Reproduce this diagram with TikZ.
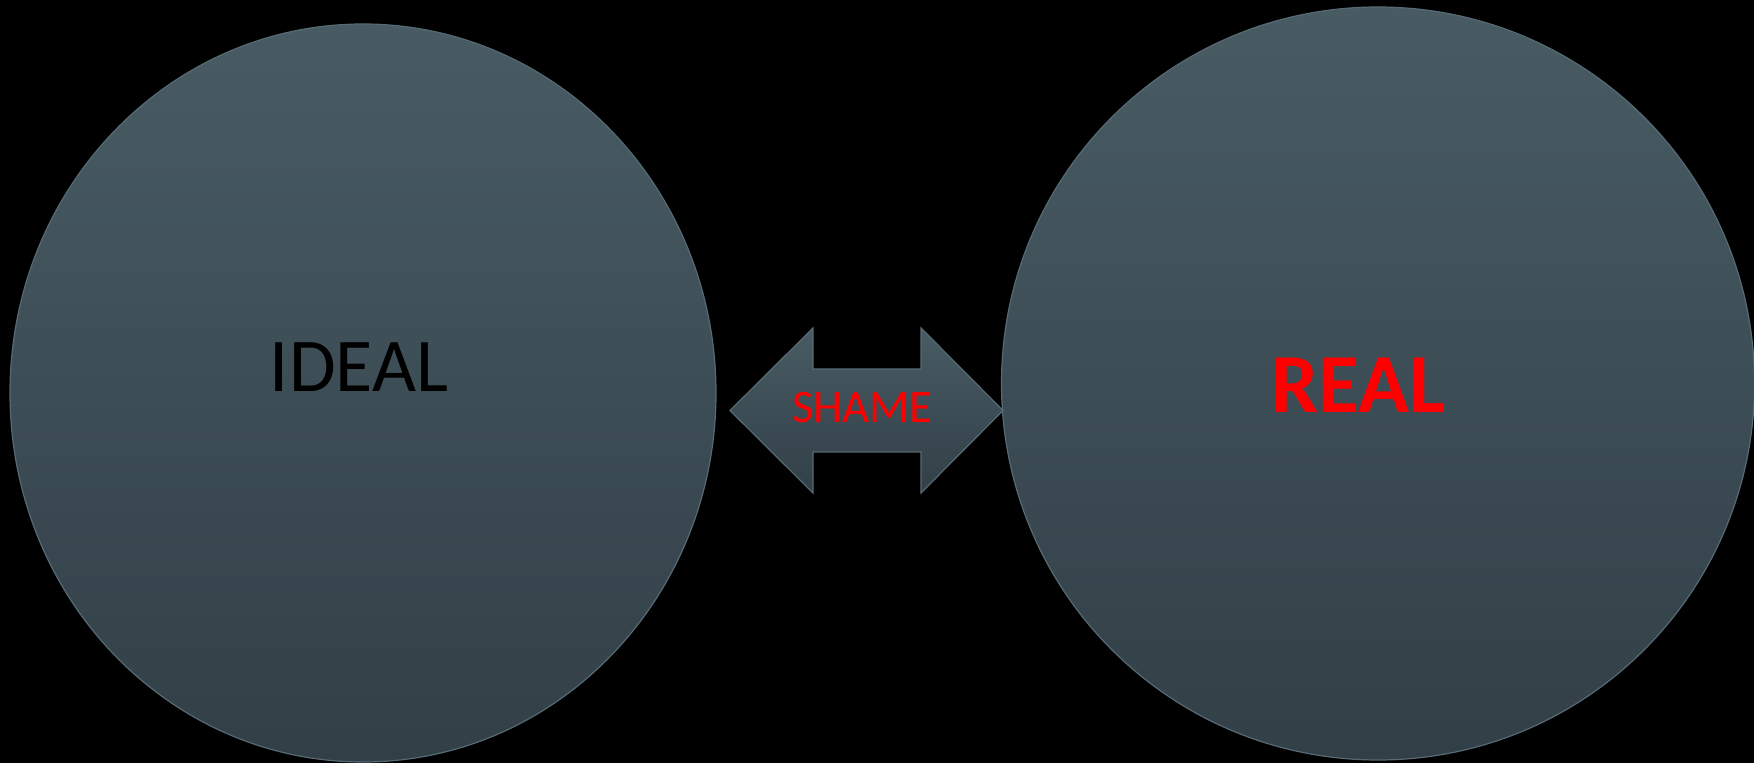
\documentclass[tikz,border=0pt]{standalone}
\usepackage{fontspec}
\setmainfont{Carlito}
\usetikzlibrary{shapes.geometric}
\definecolor{disctop}{RGB}{72,91,99}
\definecolor{discbot}{RGB}{50,63,71}
\definecolor{discrim}{RGB}{86,106,116}
\definecolor{shamered}{RGB}{255,0,0}

\begin{document}
\begin{tikzpicture}[x=0.5pt, y=-0.5pt,
    disc/.style={ellipse, inner sep=0pt, draw=discrim, line width=0.6pt,
      top color=disctop, bottom color=discbot},
    word/.style={anchor=base, inner sep=0pt}]
  % black slide, 1754 x 763 px, y runs downwards
  \useasboundingbox (0,0) rectangle (1754,763);
  \fill[black] (0,0) rectangle (1754,763);
  \node[disc, minimum width=353pt, minimum height=369pt] (ideal) at (363,393) {};
  \node[disc, minimum width=376.5pt, minimum height=376.5pt] (real) at (1378,383.5) {};
  % double arrow between the two discs
  \path[draw=discrim, line width=0.6pt, top color=disctop, bottom color=discbot]
    (730,410.5) -- (813,328) -- (813,369) -- (921,369) -- (921,328) -- (1003,410.5)
    -- (921,493) -- (921,452) -- (813,452) -- (813,493) -- cycle;
  \node[word, font=\fontsize{38}{40}\selectfont] (idealtxt) at (359,392) {IDEAL};
  \node[word, font=\fontsize{23.3}{25}\selectfont, text=shamered] (shame) at (862,423) {SHAME};
  \node[word, font=\bfseries\fontsize{42}{44}\selectfont, text=shamered] (realtxt) at (1358,413) {REAL};
\end{tikzpicture}
\end{document}
